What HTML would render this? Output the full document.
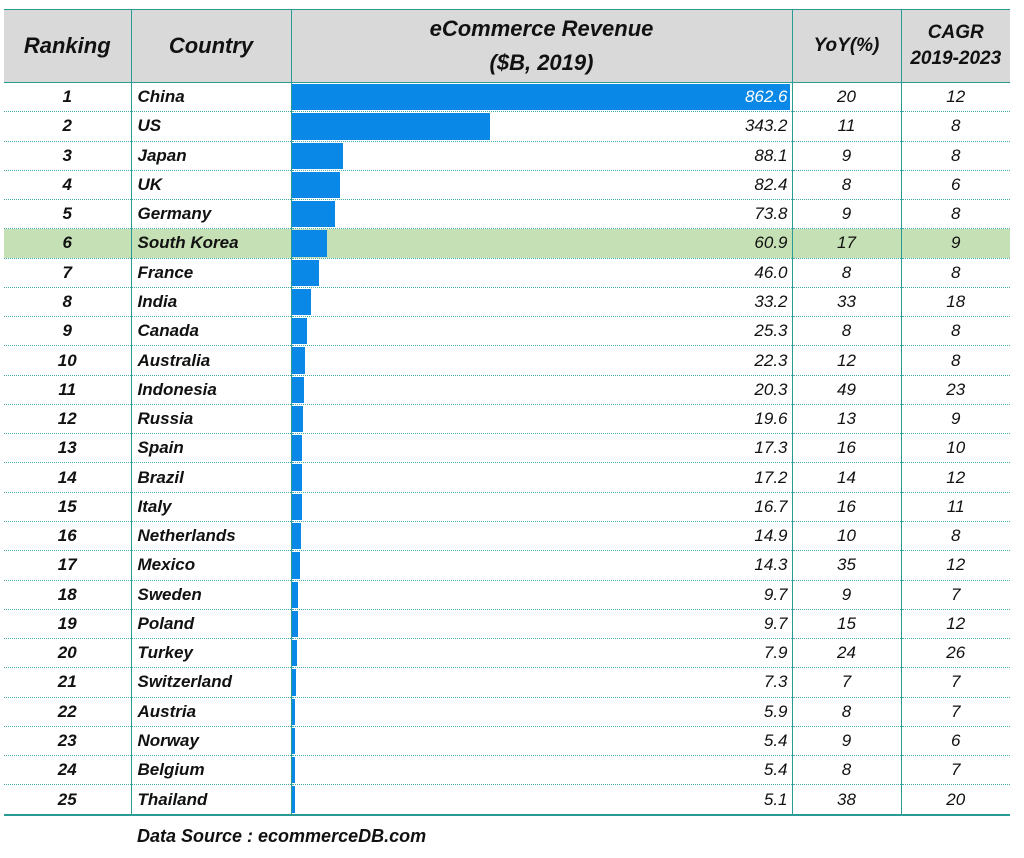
<!DOCTYPE html>
<html><head><meta charset="utf-8"><style>
body{margin:0;background:#fff;width:1024px;height:858px;overflow:hidden;font-family:"Liberation Sans",Arial,sans-serif;}
table{position:absolute;left:4px;top:9px;border-collapse:collapse;table-layout:fixed;width:1006px;}
td,th{padding:0;font-style:italic;color:#111;font-size:17px;}
th{background:#d9d9d9;height:72px;border:1.5px solid #2a9a94;font-weight:bold;font-size:22px;line-height:34px}
th.s{font-size:19px;line-height:26px}
tr.r td{height:28.28px;border-bottom:1px dotted #4aa;border-left:1.5px solid #2a9a94;border-right:1.5px solid #2a9a94;}
tr.r td:first-child{border-left:none;text-align:center;font-weight:bold}
tr.r td:last-child{border-right:none}
td.c{font-weight:bold;padding-left:6px}
td.v{position:relative;text-align:right;padding-right:4px}
td.v div{position:absolute;left:0;top:1px;bottom:1px;background:#0a88e8}
td.v span{position:relative}
td.n{text-align:center}
tr.g td{background:#c5e0b4}
tr.last td{border-bottom:2px solid #2a9a94}
.src{position:absolute;left:137px;top:826px;font-weight:bold;font-style:italic;font-size:18px;color:#111}
</style></head><body>
<table>
<colgroup><col style="width:127px"><col style="width:160px"><col style="width:501px"><col style="width:109px"><col style="width:109px"></colgroup>
<tr><th style="border-left:none">Ranking</th><th>Country</th><th>eCommerce Revenue<br>($B, 2019)</th><th class="s">YoY(%)</th><th class="s" style="border-right:none">CAGR<br>2019-2023</th></tr>
<tr class="r"><td>1</td><td class="c">China</td><td class="v"><div style="width:498px"></div><span style="color:#fff">862.6</span></td><td class="n">20</td><td class="n">12</td></tr>
<tr class="r"><td>2</td><td class="c">US</td><td class="v"><div style="width:198px"></div><span>343.2</span></td><td class="n">11</td><td class="n">8</td></tr>
<tr class="r"><td>3</td><td class="c">Japan</td><td class="v"><div style="width:51px"></div><span>88.1</span></td><td class="n">9</td><td class="n">8</td></tr>
<tr class="r"><td>4</td><td class="c">UK</td><td class="v"><div style="width:48px"></div><span>82.4</span></td><td class="n">8</td><td class="n">6</td></tr>
<tr class="r"><td>5</td><td class="c">Germany</td><td class="v"><div style="width:43px"></div><span>73.8</span></td><td class="n">9</td><td class="n">8</td></tr>
<tr class="r g"><td>6</td><td class="c">South Korea</td><td class="v"><div style="width:35px"></div><span>60.9</span></td><td class="n">17</td><td class="n">9</td></tr>
<tr class="r"><td>7</td><td class="c">France</td><td class="v"><div style="width:27px"></div><span>46.0</span></td><td class="n">8</td><td class="n">8</td></tr>
<tr class="r"><td>8</td><td class="c">India</td><td class="v"><div style="width:19px"></div><span>33.2</span></td><td class="n">33</td><td class="n">18</td></tr>
<tr class="r"><td>9</td><td class="c">Canada</td><td class="v"><div style="width:15px"></div><span>25.3</span></td><td class="n">8</td><td class="n">8</td></tr>
<tr class="r"><td>10</td><td class="c">Australia</td><td class="v"><div style="width:13px"></div><span>22.3</span></td><td class="n">12</td><td class="n">8</td></tr>
<tr class="r"><td>11</td><td class="c">Indonesia</td><td class="v"><div style="width:12px"></div><span>20.3</span></td><td class="n">49</td><td class="n">23</td></tr>
<tr class="r"><td>12</td><td class="c">Russia</td><td class="v"><div style="width:11px"></div><span>19.6</span></td><td class="n">13</td><td class="n">9</td></tr>
<tr class="r"><td>13</td><td class="c">Spain</td><td class="v"><div style="width:10px"></div><span>17.3</span></td><td class="n">16</td><td class="n">10</td></tr>
<tr class="r"><td>14</td><td class="c">Brazil</td><td class="v"><div style="width:10px"></div><span>17.2</span></td><td class="n">14</td><td class="n">12</td></tr>
<tr class="r"><td>15</td><td class="c">Italy</td><td class="v"><div style="width:10px"></div><span>16.7</span></td><td class="n">16</td><td class="n">11</td></tr>
<tr class="r"><td>16</td><td class="c">Netherlands</td><td class="v"><div style="width:9px"></div><span>14.9</span></td><td class="n">10</td><td class="n">8</td></tr>
<tr class="r"><td>17</td><td class="c">Mexico</td><td class="v"><div style="width:8px"></div><span>14.3</span></td><td class="n">35</td><td class="n">12</td></tr>
<tr class="r"><td>18</td><td class="c">Sweden</td><td class="v"><div style="width:6px"></div><span>9.7</span></td><td class="n">9</td><td class="n">7</td></tr>
<tr class="r"><td>19</td><td class="c">Poland</td><td class="v"><div style="width:6px"></div><span>9.7</span></td><td class="n">15</td><td class="n">12</td></tr>
<tr class="r"><td>20</td><td class="c">Turkey</td><td class="v"><div style="width:5px"></div><span>7.9</span></td><td class="n">24</td><td class="n">26</td></tr>
<tr class="r"><td>21</td><td class="c">Switzerland</td><td class="v"><div style="width:4px"></div><span>7.3</span></td><td class="n">7</td><td class="n">7</td></tr>
<tr class="r"><td>22</td><td class="c">Austria</td><td class="v"><div style="width:3px"></div><span>5.9</span></td><td class="n">8</td><td class="n">7</td></tr>
<tr class="r"><td>23</td><td class="c">Norway</td><td class="v"><div style="width:3px"></div><span>5.4</span></td><td class="n">9</td><td class="n">6</td></tr>
<tr class="r"><td>24</td><td class="c">Belgium</td><td class="v"><div style="width:3px"></div><span>5.4</span></td><td class="n">8</td><td class="n">7</td></tr>
<tr class="r last"><td>25</td><td class="c">Thailand</td><td class="v"><div style="width:3px"></div><span>5.1</span></td><td class="n">38</td><td class="n">20</td></tr>
</table>
<div class="src">Data Source : ecommerceDB.com</div>
</body></html>
